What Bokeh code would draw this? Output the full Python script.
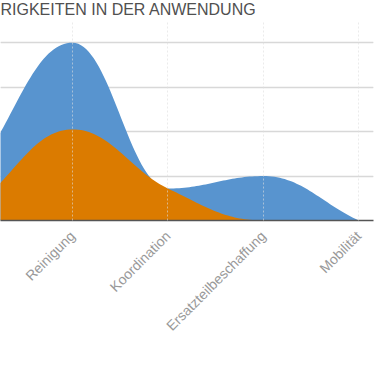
import math
import numpy as np
from bokeh.plotting import figure
from bokeh.models import Range1d, FixedTicker, Grid
from bokeh.embed import file_html
from bokeh.resources import INLINE

# ---- data ----
categories = ["", "Reinigung", "Koordination", "Ersatzteilbeschaffung", "Mobilität"]
blue_values = [1.15, 4.0, 0.72, 1.0, 0.0]
orange_values = [0.35, 2.05, 0.72, 0.0, 0.0]
y_grid_ticks = [1, 2, 3, 4]
title_text = "RIGKEITEN IN DER ANWENDUNG"

BLUE = "#5894cf"
ORANGE = "#db7b00"


def smooth_curve(ys, samples=40):
    """Smooth spline through the points (x = category index), no false extremes."""
    xs = list(range(len(ys)))
    n = len(xs)
    s, d = 1.5, 2.5
    lc, rc = [None] * n, [None] * n
    for i in range(n):
        x, y = xs[i], ys[i]
        if 0 < i < n - 1:
            lx, ly = xs[i - 1], ys[i - 1]
            nx, ny = xs[i + 1], ys[i + 1]
            lcx, lcy = (s * x + lx) / d, (s * y + ly) / d
            rcx, rcy = (s * x + nx) / d, (s * y + ny) / d
            if rcx != lcx:
                corr = ((rcy - lcy) * (rcx - x)) / (rcx - lcx) + y - rcy
                lcy += corr
                rcy += corr
            if lcy > ly and lcy > y:
                lcy = max(ly, y); rcy = 2 * y - lcy
            elif lcy < ly and lcy < y:
                lcy = min(ly, y); rcy = 2 * y - lcy
            if rcy > ny and rcy > y:
                rcy = max(ny, y); lcy = 2 * y - rcy
            elif rcy < ny and rcy < y:
                rcy = min(ny, y); lcy = 2 * y - rcy
            lc[i], rc[i] = (lcx, lcy), (rcx, rcy)
        elif i == 0:
            nx, ny = xs[1], ys[1]
            rc[i] = ((s * x + nx) / d, (s * y + ny) / d)
        else:
            lx, ly = xs[i - 1], ys[i - 1]
            lc[i] = ((s * x + lx) / d, (s * y + ly) / d)
    px, py = [], []
    t = np.linspace(0, 1, samples)
    for i in range(n - 1):
        p0 = (xs[i], ys[i]); p1 = rc[i]; p2 = lc[i + 1]; p3 = (xs[i + 1], ys[i + 1])
        bx = (1 - t) ** 3 * p0[0] + 3 * (1 - t) ** 2 * t * p1[0] + 3 * (1 - t) * t ** 2 * p2[0] + t ** 3 * p3[0]
        by = (1 - t) ** 3 * p0[1] + 3 * (1 - t) ** 2 * t * p1[1] + 3 * (1 - t) * t ** 2 * p2[1] + t ** 3 * p3[1]
        if i > 0:
            bx, by = bx[1:], by[1:]
        px.extend(bx.tolist()); py.extend(by.tolist())
    return px, py


p = figure(
    frame_width=373, frame_height=200,
    x_range=Range1d(0.2453, 4.155), y_range=Range1d(0, 4.5),
    y_axis_location=None,
    output_backend="svg", toolbar_location=None,
    min_border_left=0, min_border_right=2, min_border_top=0, min_border_bottom=0,
    background_fill_color="white", border_fill_color="white",
    margin=(0, 0, 0, 0),
)
p.outline_line_color = None

p.title.text = title_text
p.title.text_font = "Liberation Sans"
p.title.text_font_size = "16px"
p.title.text_font_style = "normal"
p.title.text_color = "#505050"
p.title.align = "left"
p.title.vertical_align = "top"
p.title.offset = 0
p.title.standoff = 1

# horizontal grid
hgrid = Grid(dimension=1, ticker=FixedTicker(ticks=y_grid_ticks),
             grid_line_color="#d8d8d8", grid_line_width=1.5)
p.add_layout(hgrid)

bx, by = smooth_curve(blue_values)
ox, oy = smooth_curve(orange_values)
p.varea(x=bx, y1=0, y2=by, fill_color=BLUE)
p.varea(x=ox, y1=0, y2=oy, fill_color=ORANGE)

tick_pos = [i for i, c in enumerate(categories) if c]
p.xaxis.ticker = FixedTicker(ticks=tick_pos)
p.xaxis.major_label_overrides = {i: categories[i] for i in tick_pos}
p.xaxis.major_label_orientation = math.pi / 4
p.xaxis.major_label_text_font = "Liberation Sans"
p.xaxis.major_label_text_font_size = "14px"
p.xaxis.major_label_text_color = "#999999"
p.xaxis.major_label_standoff = 7
p.xaxis.major_tick_line_color = None
p.xaxis.minor_tick_line_color = None
p.xaxis.axis_line_color = "#555555"
p.xaxis.axis_line_width = 1.5

p.xgrid.ticker = FixedTicker(ticks=tick_pos)
p.xgrid.grid_line_color = "#dddddd"
p.xgrid.grid_line_alpha = 0.6
p.xgrid.grid_line_dash = "2 2"
p.xgrid.level = "overlay"

open("out.html", "w").write(file_html(p, INLINE))
